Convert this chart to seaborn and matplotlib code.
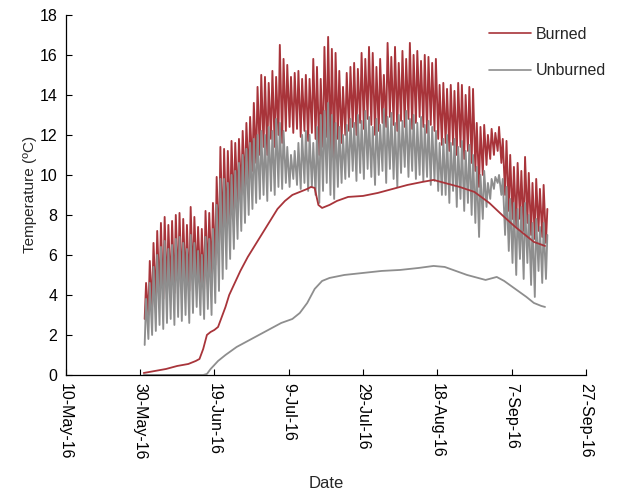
import matplotlib
matplotlib.use("Agg")
import matplotlib.pyplot as plt
import pandas as pd
import seaborn as sns

# ---------------- data ----------------
start_date = "2016-05-31"

burned_max = [4.6, 5.7, 6.6, 7.2, 7.6, 7.9, 7.5, 7.7, 8.0, 8.1, 7.8, 7.5, 8.4, 7.9, 7.4, 7.3, 8.2, 8.1, 8.6, 9.9, 11.4, 11.3, 11.2, 11.7,
              11.6, 11.8, 12.2, 12.6, 12.9, 13.6, 14.4, 15.0, 14.9, 14.6, 15.2, 14.9, 16.5, 15.8, 15.5, 14.9, 15.1, 15.2, 14.8, 15.0, 14.8, 15.8, 15.4, 14.8, 16.4, 16.9, 16.3, 16.1,
              15.2, 14.4, 15.1, 15.4, 15.6, 15.3, 16.1, 15.8, 16.4, 16.1, 15.4, 15.8, 15.0, 16.6, 15.9, 16.4, 15.6, 16.2, 15.8, 16.6, 16.0, 16.2, 15.7, 16.0, 15.9, 15.6, 15.8, 14.5, 14.6,
              14.3, 14.5, 14.2, 14.6, 14.5, 14.0, 14.4, 14.3, 12.6, 12.4, 12.5, 12.0, 12.3, 12.1, 12.4, 11.8, 11.7, 11.0, 10.4, 10.6, 10.2, 10.9, 10.1, 9.6, 9.8, 9.3, 9.5, 8.3]
burned_min = [2.8, 3.0, 3.4, 3.6, 3.9, 3.8, 4.0, 4.2, 4.1, 4.4, 4.3, 4.5, 4.2, 4.6, 4.8, 4.5, 4.3, 4.9, 5.0, 5.5, 6.2, 6.8, 7.3, 7.8,
              8.2, 8.6, 9.0, 9.4, 9.8, 10.2, 10.6, 11.0, 11.4, 11.0, 11.8, 11.4, 12.0, 11.6, 12.2, 12.4, 12.1, 12.3, 11.9, 12.2, 11.7, 12.1, 11.8, 11.0, 11.4, 11.9, 11.2, 10.8,
              11.8, 11.6, 12.0, 12.2, 12.4, 12.0, 12.6, 12.3, 12.8, 12.5, 12.0, 12.2, 12.6, 12.4, 12.9, 12.5, 12.2, 12.7, 12.4, 12.8, 12.3, 12.6, 12.9, 12.4, 12.1, 12.5, 12.2, 11.8, 11.5,
              11.6, 11.2, 11.5, 11.0, 11.4, 10.8, 11.2, 10.6, 10.2, 9.4, 10.0, 10.5, 10.8, 11.0, 11.2, 10.6, 9.0, 8.2, 7.8, 7.4, 7.8, 7.2, 7.6, 7.0, 6.8, 7.2, 6.9, 6.6]
unburned_max = [3.8, 4.6, 5.4, 6.0, 6.4, 6.7, 6.3, 6.5, 6.8, 6.9, 6.6, 6.3, 7.0, 6.6, 6.2, 6.0, 6.9, 6.8, 7.3, 8.5, 9.8, 9.8, 9.6, 10.0,
                10.2, 10.6, 11.0, 11.3, 11.6, 11.8, 12.0, 12.2, 12.0, 12.4, 12.2, 12.8, 12.6, 12.2, 11.4, 11.0, 11.2, 11.6, 12.0, 12.2, 12.0, 11.6, 12.4, 13.0, 13.2, 13.6, 13.0, 12.6,
                12.4, 12.0, 12.5, 12.8, 12.6, 13.0, 12.7, 13.2, 12.9, 12.4, 12.8, 12.5, 13.3, 12.9, 13.1, 12.6, 13.0, 12.7, 13.2, 12.8, 13.0, 12.6, 12.9, 12.5, 12.7, 12.4, 12.2, 11.6, 11.8,
                12.0, 11.6, 11.8, 11.4, 11.7, 11.2, 11.5, 11.0, 10.4, 10.0, 10.2, 9.6, 9.8, 9.9, 10.0, 9.8, 9.4, 8.8, 8.6, 8.3, 8.4, 8.6, 8.0, 7.6, 7.8, 7.4, 7.6, 7.0]
unburned_min = [1.5, 1.8, 2.0, 2.2, 2.5, 2.3, 2.6, 2.8, 2.5, 2.9, 2.7, 3.0, 2.6, 3.1, 3.4, 3.0, 2.8, 3.3, 3.0, 3.6, 4.2, 4.8, 5.3, 5.8,
                6.3, 6.8, 7.2, 7.6, 8.0, 8.3, 8.6, 8.8, 9.0, 8.7, 9.2, 9.0, 9.4, 9.3, 9.6, 9.4, 9.8, 9.5, 9.3, 9.6, 9.2, 9.4, 9.0, 8.6, 9.2, 9.6, 9.0, 8.8,
                9.4, 9.6, 9.8, 9.9, 10.2, 9.7, 10.1, 9.8, 10.3, 9.9, 9.5, 10.0, 10.2, 9.6, 10.3, 9.8, 9.4, 10.1, 10.4, 9.9, 10.2, 9.8, 10.0, 9.7, 9.9, 9.5, 9.7, 9.2, 9.0,
                9.0, 8.6, 9.2, 8.4, 8.8, 8.2, 8.6, 8.0, 7.6, 6.9, 7.8, 8.4, 8.8, 9.3, 9.6, 9.0, 7.0, 6.2, 5.6, 5.0, 5.8, 4.8, 5.6, 4.5, 3.9, 5.2, 4.6, 4.8]

burned_deep_dates = ["2016-05-31", "2016-06-03", "2016-06-06", "2016-06-09", "2016-06-12", "2016-06-14", "2016-06-15",
                     "2016-06-16", "2016-06-17", "2016-06-18", "2016-06-19", "2016-06-20", "2016-06-21", "2016-06-22",
                     "2016-06-23", "2016-06-24", "2016-06-26", "2016-06-28", "2016-06-30", "2016-07-02", "2016-07-04",
                     "2016-07-06", "2016-07-08", "2016-07-10", "2016-07-12", "2016-07-14", "2016-07-15", "2016-07-16",
                     "2016-07-17", "2016-07-18", "2016-07-20", "2016-07-22", "2016-07-25", "2016-07-29", "2016-08-02",
                     "2016-08-06", "2016-08-10", "2016-08-14", "2016-08-17", "2016-08-20", "2016-08-24", "2016-08-28",
                     "2016-09-01", "2016-09-03", "2016-09-05", "2016-09-08", "2016-09-10", "2016-09-13", "2016-09-16"]
burned_deep = [0.1, 0.2, 0.3, 0.45, 0.55, 0.7, 0.8,
               1.3, 2.0, 2.15, 2.25, 2.4, 2.9, 3.4,
               4.0, 4.4, 5.2, 5.9, 6.5, 7.1, 7.7,
               8.3, 8.7, 9.0, 9.15, 9.3, 9.4, 9.35,
               8.5, 8.35, 8.5, 8.7, 8.9, 8.95, 9.1,
               9.3, 9.5, 9.65, 9.75, 9.6, 9.4, 9.15,
               8.6, 8.25, 7.9, 7.4, 7.1, 6.65, 6.45]

unburned_deep_dates = ["2016-05-31", "2016-06-16", "2016-06-17", "2016-06-18", "2016-06-20", "2016-06-22", "2016-06-25",
                       "2016-06-28", "2016-07-01", "2016-07-04", "2016-07-07", "2016-07-10", "2016-07-12", "2016-07-14",
                       "2016-07-16", "2016-07-18", "2016-07-20", "2016-07-24", "2016-07-29", "2016-08-03", "2016-08-08",
                       "2016-08-13", "2016-08-17", "2016-08-20", "2016-08-23", "2016-08-26", "2016-08-29", "2016-08-31",
                       "2016-09-02", "2016-09-03", "2016-09-05", "2016-09-08", "2016-09-11", "2016-09-13", "2016-09-15",
                       "2016-09-16"]
unburned_deep = [0.0, 0.0, 0.05, 0.3, 0.7, 1.0, 1.4,
                 1.7, 2.0, 2.3, 2.6, 2.8, 3.1, 3.6,
                 4.3, 4.7, 4.85, 5.0, 5.1, 5.2, 5.25,
                 5.35, 5.45, 5.4, 5.2, 5.0, 4.85, 4.75,
                 4.85, 4.9, 4.7, 4.3, 3.9, 3.6, 3.45,
                 3.4]

x_ticks = ["2016-05-10", "2016-05-30", "2016-06-19", "2016-07-09", "2016-07-29", "2016-08-18", "2016-09-07", "2016-09-27"]
y_ticks = [0, 2, 4, 6, 8, 10, 12, 14, 16, 18]
sites = ["Burned", "Unburned"]
colors = {"Burned": "#A8343A", "Unburned": "#8E8E8E"}

# ---------------- tables ----------------
days = pd.date_range(start_date, periods=len(burned_max), freq="D")
t_low = days + pd.Timedelta(hours=6)
t_high = days + pd.Timedelta(hours=15)


def zigzag(mins, maxs, site):
    return pd.DataFrame({"time": list(t_low) + list(t_high),
                         "temp": list(mins) + list(maxs),
                         "site": site})


surface = pd.concat([zigzag(burned_min, burned_max, "Burned"),
                     zigzag(unburned_min, unburned_max, "Unburned")], ignore_index=True)
deep = pd.concat([
    pd.DataFrame({"time": pd.to_datetime(burned_deep_dates), "temp": burned_deep, "site": "Burned"}),
    pd.DataFrame({"time": pd.to_datetime(unburned_deep_dates), "temp": unburned_deep, "site": "Unburned"}),
], ignore_index=True)

# ---------------- plot ----------------
sns.set_style("ticks")
plt.rcParams["font.family"] = ["Liberation Sans", "DejaVu Sans"]

fig = plt.figure(figsize=(6.2, 4.96), dpi=100)
ax = fig.add_axes([0.106, 0.244, 0.839, 0.726])

sns.lineplot(data=surface, x="time", y="temp", hue="site", hue_order=sites, palette=colors,
             estimator=None, sort=True, linewidth=1.35, ax=ax)
sns.lineplot(data=deep, x="time", y="temp", hue="site", hue_order=sites, palette=colors,
             estimator=None, sort=True, linewidth=1.3, legend=False, ax=ax)

xt = pd.to_datetime(x_ticks)
ax.set_xlim(xt[0], xt[-1])
ax.set_xticks(xt)
ax.set_xticklabels([f"{d.day}-{d.strftime('%b-%y')}" for d in xt], rotation=-90, fontsize=11.5)
ax.set_ylim(0, 18)
ax.set_yticks(y_ticks)
ax.set_yticklabels([str(v) for v in y_ticks], fontsize=11.5)
ax.tick_params(direction="in", length=4, width=0.8, colors="black", pad=6)
ax.tick_params(axis="x", pad=6)
ax.set_xlabel("Date", fontsize=12, labelpad=12)
ax.set_ylabel("Temperature (ºC)", fontsize=11, labelpad=2)
sns.despine(ax=ax)
for s in ["left", "bottom"]:
    ax.spines[s].set_color("black")
    ax.spines[s].set_linewidth(0.9)

handles, labels = ax.get_legend_handles_labels()
for h in handles:
    h.set_linewidth(1.2)
ax.legend(handles=handles, labels=labels, loc="upper right", bbox_to_anchor=(1.0, 0.975),
          bbox_transform=fig.transFigure, frameon=False, fontsize=11.5,
          handlelength=2.6, labelspacing=1.35, handletextpad=0.3)

fig.savefig("out.png", dpi=100)
